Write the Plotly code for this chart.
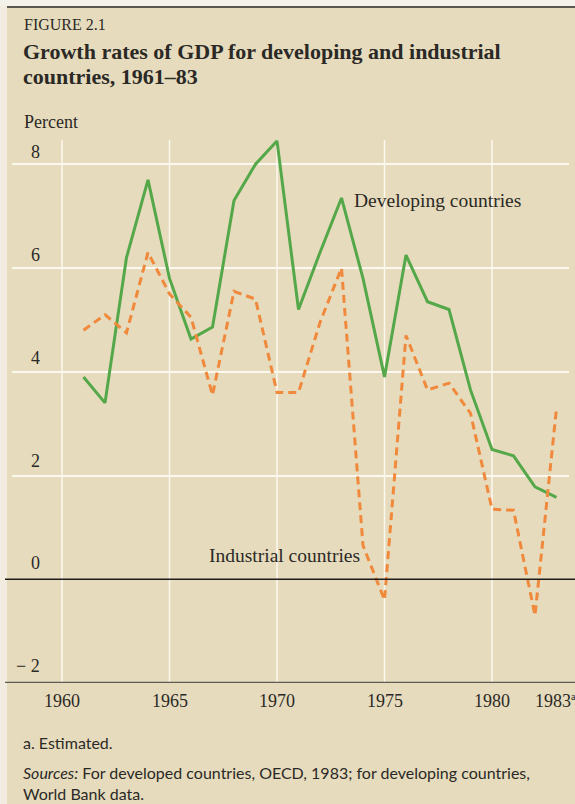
import plotly.graph_objects as go

# ---------------- data ----------------
years = list(range(1961, 1984))
developing = [3.9, 3.4, 6.2, 7.7, 5.8, 4.63, 4.86, 7.3, 8.0, 8.45, 5.2, 6.3,
              7.35, 5.8, 3.9, 6.25, 5.35, 5.2, 3.65, 2.5, 2.38, 1.78, 1.58]
industrial = [4.8, 5.1, 4.75, 6.3, 5.5, 5.05, 3.55, 5.55, 5.4, 3.6, 3.6, 4.95,
              6.0, 0.65, -0.4, 4.7, 3.65, 3.78, 3.2, 1.35, 1.33, -0.7, 3.3]
x_tick_vals = [1960, 1965, 1970, 1975, 1980, 1983]
x_tick_text = ["1960", "1965", "1970", "1975", "1980", "1983"]
x_tick_note = ["", "", "", "", "", "a"]
x_grid_vals = [1960, 1965, 1970, 1975, 1980]
y_tick_vals = [8, 6, 4, 2, 0, -2]
y_tick_text = ["8", "6", "4", "2", "0", "\u2212 2"]
y_grid_vals = [8, 6, 4, 2]

# ---------------- layout helpers ----------------
W, H = 575, 804
L, R, T, B = 12, 6, 140, 121
PW, PH = W - L - R, H - T - B


def xp(px):
    return (px - L) / PW


def yp(py):
    return (H - B - py) / PH


BG = "#e6dcbd"
SERIF = "Liberation Serif, Times New Roman, serif"
SANS = "Lato, Open Sans, sans-serif"
TXT = "#2b2926"

fig = go.Figure()
fig.add_trace(go.Scatter(x=years, y=developing, mode="lines",
                         line=dict(color="#55a84a", width=3),
                         name="Developing countries", hoverinfo="x+y"))
fig.add_trace(go.Scatter(x=years, y=industrial, mode="lines",
                         line=dict(color="#f0893c", width=3, dash="8px,5px"),
                         name="Industrial countries", hoverinfo="x+y"))

shapes = []
# left pale strip & top pale band
shapes.append(dict(type="rect", xref="paper", yref="paper", x0=xp(0), x1=xp(7),
                   y0=yp(H), y1=yp(0), fillcolor="#f2ece0", line=dict(width=0),
                   layer="below"))
shapes.append(dict(type="rect", xref="paper", yref="paper", x0=xp(0), x1=xp(W),
                   y0=yp(6), y1=yp(0), fillcolor="#f4f1ea", line=dict(width=0),
                   layer="below"))
# top rule
shapes.append(dict(type="line", xref="paper", yref="paper", x0=xp(7), x1=xp(W),
                   y0=yp(7), y1=yp(7), line=dict(color="#5a5650", width=2)))
# vertical gridlines
for v in x_grid_vals:
    shapes.append(dict(type="line", xref="x", yref="paper", x0=v, x1=v, y0=0, y1=1,
                       line=dict(color="#fbf8f0", width=1.5), layer="below"))
# zero line and bottom axis
shapes.append(dict(type="line", xref="paper", yref="y", x0=xp(5), x1=xp(W),
                   y0=0, y1=0, line=dict(color="#1e1c1a", width=1.3)))
shapes.append(dict(type="line", xref="paper", yref="y", x0=xp(5), x1=xp(W),
                   y0=-2, y1=-2, line=dict(color="#5e5a54", width=2.5)))

ann = []
ann.append(dict(text="FIGURE 2.1", xref="paper", yref="paper", x=xp(22), y=yp(24),
                xanchor="left", yanchor="middle", showarrow=False,
                font=dict(family=SERIF, size=16, color=TXT)))
ann.append(dict(text="<b>Growth rates of GDP for developing and industrial</b>",
                xref="paper", yref="paper", x=xp(21), y=yp(52), xanchor="left",
                yanchor="middle", showarrow=False,
                font=dict(family=SERIF, size=22, color=TXT)))
ann.append(dict(text="<b>countries, 1961\u201383</b>",
                xref="paper", yref="paper", x=xp(21), y=yp(76), xanchor="left",
                yanchor="middle", showarrow=False,
                font=dict(family=SERIF, size=22, color=TXT)))
ann.append(dict(text="Percent", xref="paper", yref="paper", x=xp(22), y=yp(122),
                xanchor="left", yanchor="middle", showarrow=False,
                font=dict(family=SERIF, size=18, color=TXT)))
for v, t in zip(y_tick_vals, y_tick_text):
    ann.append(dict(text=t, xref="paper", yref="y", x=xp(42), y=v,
                    xanchor="right", yanchor="middle", yshift=12 + (8 - v) / 2,
                    showarrow=False, font=dict(family=SERIF, size=18, color=TXT)))
for v, t, n in zip(x_tick_vals, x_tick_text, x_tick_note):
    ann.append(dict(text=t, xref="x", yref="paper", x=v, y=yp(701),
                    xanchor="center", xshift=-4 if n else 0,
                    yanchor="middle", showarrow=False,
                    font=dict(family=SERIF, size=18, color=TXT)))
    if n:
        ann.append(dict(text=n, xref="x", yref="paper", x=v, y=yp(696),
                        xanchor="left", xshift=12, yanchor="middle", showarrow=False,
                        font=dict(family=SERIF, size=10, color=TXT)))
ann.append(dict(text="Developing countries", xref="x", yref="y", x=1973.5, y=7.31,
                xanchor="left", yanchor="middle", showarrow=False,
                font=dict(family=SERIF, size=19.5, color=TXT)))
ann.append(dict(text="Industrial countries", xref="x", yref="y", x=1970.35, y=0.45,
                xanchor="center", yanchor="middle", showarrow=False,
                font=dict(family=SERIF, size=19.5, color=TXT)))
ann.append(dict(text="a. Estimated.", xref="paper", yref="paper", x=xp(21), y=yp(742),
                xanchor="left", yanchor="middle", showarrow=False,
                font=dict(family=SANS, size=16, color=TXT)))
ann.append(dict(text="<i>Sources:</i> For developed countries, OECD, 1983; for developing countries,",
                xref="paper", yref="paper", x=xp(21), y=yp(772), xanchor="left",
                yanchor="middle", showarrow=False,
                font=dict(family=SANS, size=16, color=TXT)))
ann.append(dict(text="World Bank data.", xref="paper", yref="paper", x=xp(21), y=yp(793),
                xanchor="left", yanchor="middle", showarrow=False,
                font=dict(family=SANS, size=16, color=TXT)))

x0 = 1960 - (62 - L) / 21.5
fig.update_layout(
    width=W, height=H, margin=dict(l=L, r=R, t=T, b=B, pad=0),
    paper_bgcolor=BG, plot_bgcolor=BG, showlegend=False,
    xaxis=dict(range=[x0, x0 + PW / 21.5], showticklabels=False,
               showgrid=False, zeroline=False, showline=False, ticks="",
               fixedrange=True),
    yaxis=dict(range=[-2, -2 + PH / 51.875], tickvals=y_grid_vals, showticklabels=False,
               showgrid=True, gridcolor="#fbf8f0", gridwidth=1.5, zeroline=False,
               showline=False, ticks="", fixedrange=True),
    shapes=shapes, annotations=ann,
)

fig.write_html("out.html", config={"displayModeBar": False},
               post_script="document.body.style.margin='0';document.body.style.overflow='hidden';")
